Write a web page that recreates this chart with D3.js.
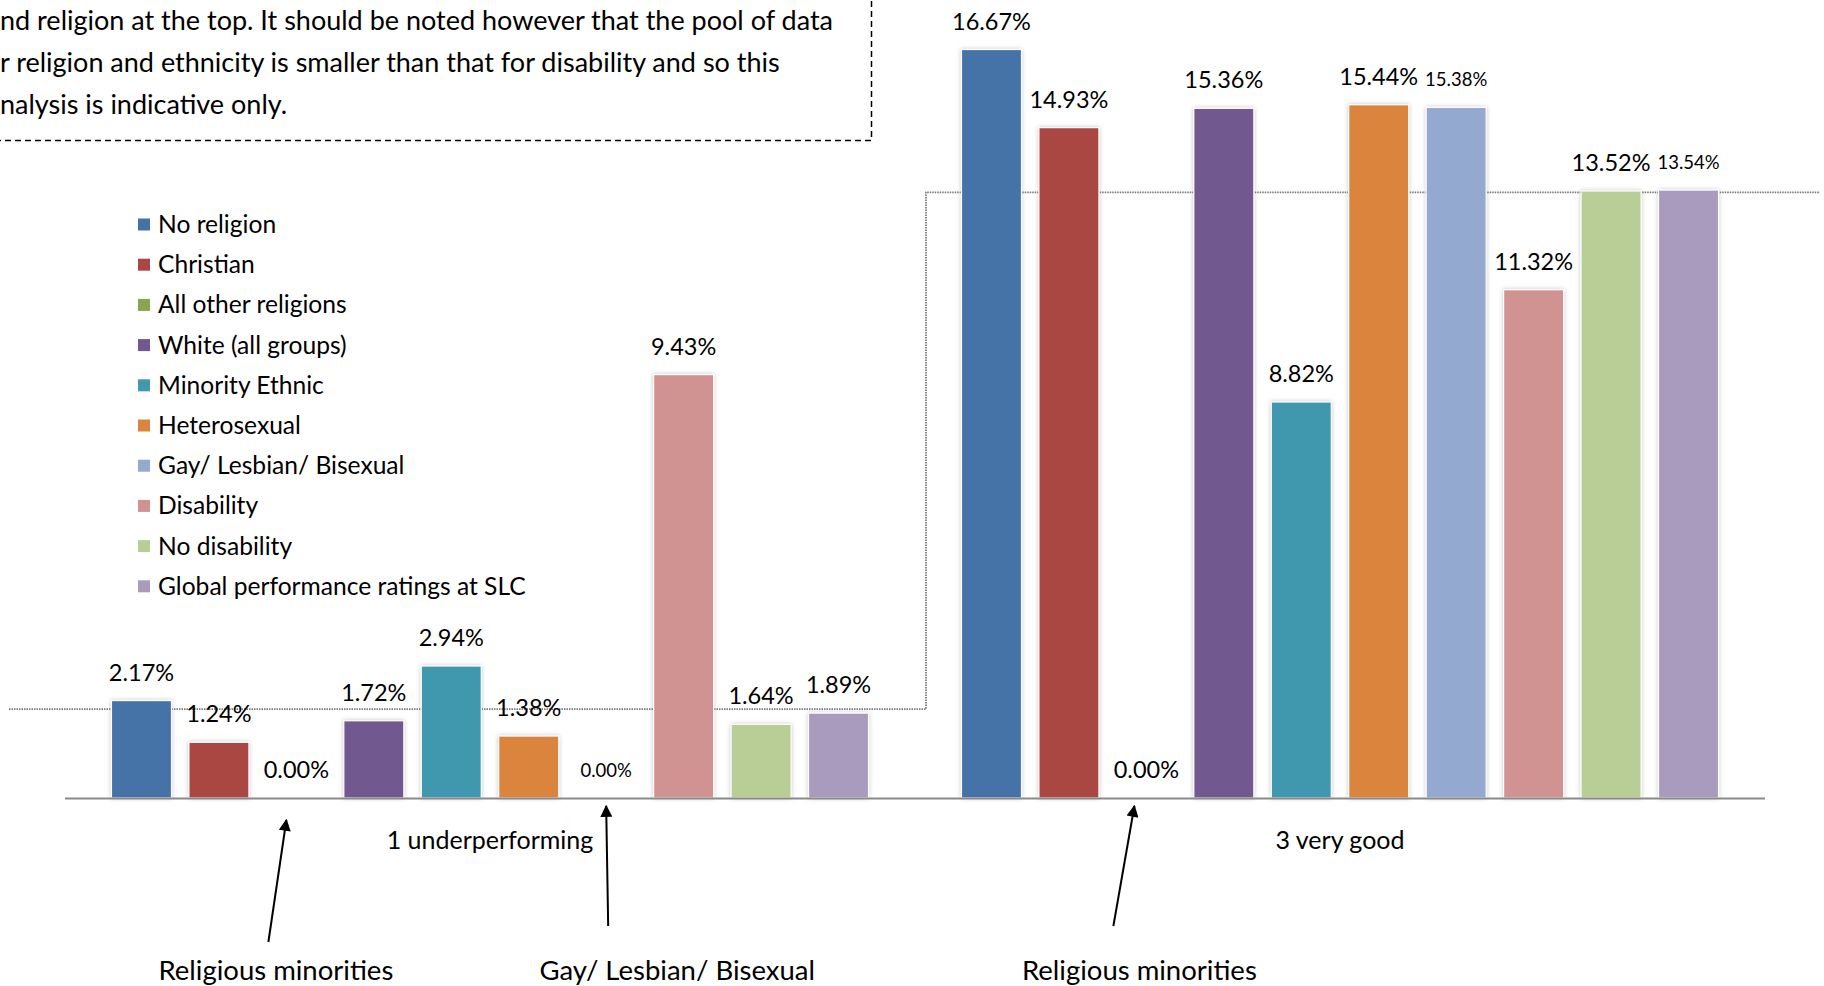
<!DOCTYPE html>
<html>
<head>
<meta charset="utf-8">
<script src="https://cdn.jsdelivr.net/npm/d3@7"></script>
<style>
  html, body { margin: 0; padding: 0; background: #ffffff; overflow: hidden; }
  svg { display: block; font-family: Lato, "Open Sans", "Noto Sans", sans-serif; }
</style>
</head>
<body>
<svg id="chart" width="1824" height="986"></svg>
<script>
// ---- data ----
const categories = ["1 underperforming", "3 very good"];
const seriesNames = [
  "No religion", "Christian", "All other religions", "White (all groups)",
  "Minority Ethnic", "Heterosexual", "Gay/ Lesbian/ Bisexual", "Disability",
  "No disability", "Global performance ratings at SLC"
];
const seriesColors = [
  "#4572A7", "#AA4643", "#89A54E", "#71588F", "#4198AF",
  "#DB843D", "#93A9CF", "#D19392", "#B9CD96", "#A99BBD"
];
const underperformingValues = [2.17, 1.24, 0.00, 1.72, 2.94, 1.38, 0.00, 9.43, 1.64, 1.89];
const veryGoodValues = [16.67, 14.93, 0.00, 15.36, 8.82, 15.44, 15.38, 11.32, 13.52, 13.54];
const benchmarkLevels = [1.98, 13.49];
const noteLines = [
  "nd religion at the top. It should be noted however that the pool of data",
  "r religion and ethnicity is smaller than that for disability and so this",
  "nalysis is indicative only."
];
const annotationTexts = ["Religious minorities", "Gay/ Lesbian/ Bisexual", "Religious minorities"];
const annotationTargets = [[0, 2], [0, 6], [1, 2]]; // [category index, series index]

// ---- layout ----
const baseY = 798;
const svg = d3.select("#chart");

const rows = categories.map((c, ci) => ({
  category: c,
  values: (ci === 0 ? underperformingValues : veryGoodValues)
}));

const x0 = d3.scaleBand().domain(categories).range([65, 1765]).padding(0);
const x1 = d3.scaleBand().domain(seriesNames).range([0, x0.bandwidth()])
  .paddingInner(0.225).paddingOuter(0.6);
const y = d3.scaleLinear().domain([0, 18]).range([baseY, baseY - 18 * 44.9]);

// soft shadow around each bar
const defs = svg.append("defs");
const f = defs.append("filter").attr("id", "barShadow")
  .attr("x", "-30%").attr("y", "-10%").attr("width", "160%").attr("height", "120%");
f.append("feDropShadow").attr("dx", 0).attr("dy", 0).attr("stdDeviation", 2.2)
  .attr("flood-color", "#7f7f7f").attr("flood-opacity", 0.45);

// ---- note box (dashed) ----
const note = svg.append("g");
note.append("path")
  .attr("d", `M-5,140.5 H871.5 V-5`)
  .attr("fill", "none").attr("stroke", "#000").attr("stroke-width", 1.5)
  .attr("stroke-dasharray", "6,4");
note.selectAll("text").data(noteLines).enter().append("text")
  .attr("x", 0).attr("y", (d, i) => 30 + i * 42)
  .attr("font-size", 27).attr("fill", "#000")
  .text(d => d);

// ---- benchmark step line ----
const stepX = x0(categories[1]) + 11;
svg.append("path")
  .attr("d", `M9,${y(benchmarkLevels[0])} H${stepX} V${y(benchmarkLevels[1])} H1820`)
  .attr("fill", "none").attr("stroke", "#7a7a7a").attr("stroke-width", 1.8)
  .attr("stroke-dasharray", "1.5,1");

// ---- bars ----
const groups = svg.append("g").selectAll("g").data(rows).enter().append("g")
  .attr("transform", d => `translate(${x0(d.category)},0)`);

groups.selectAll("rect").data(d => d.values.map((v, i) => ({ v, i })))
  .enter().append("rect")
  .filter(d => d.v > 0)
  .attr("x", d => x1(seriesNames[d.i]))
  .attr("y", d => y(d.v))
  .attr("width", x1.bandwidth())
  .attr("height", d => baseY - y(d.v))
  .attr("fill", d => seriesColors[d.i])
  .attr("stroke", "#ffffff").attr("stroke-width", 1.2)
  .attr("filter", "url(#barShadow)");

// value labels; a few labels are set in a smaller size
const smallLabels = new Set(["0-6", "1-6", "1-9"]);
groups.each(function (row, ci) {
  d3.select(this).selectAll("text.val").data(row.values.map((v, i) => ({ v, i })))
    .enter().append("text").attr("class", "val")
    .attr("x", d => x1(seriesNames[d.i]) + x1.bandwidth() / 2)
    .attr("y", d => y(d.v) - (smallLabels.has(ci + "-" + d.i) ? 21 : 20))
    .attr("text-anchor", "middle")
    .attr("font-size", d => smallLabels.has(ci + "-" + d.i) ? 18.5 : 23.5)
    .attr("fill", "#000")
    .text(d => d.v.toFixed(2) + "%");
});

// ---- category axis ----
svg.append("line")
  .attr("x1", 65).attr("x2", 1765).attr("y1", baseY + 0.5).attr("y2", baseY + 0.5)
  .attr("stroke", "#8a8a8a").attr("stroke-width", 2.2);
svg.append("g").selectAll("text").data(categories).enter().append("text")
  .attr("x", d => x0(d) + x0.bandwidth() / 2)
  .attr("y", 849)
  .attr("text-anchor", "middle").attr("font-size", 25).attr("fill", "#000")
  .text(d => d);

// ---- legend ----
const legend = svg.append("g").selectAll("g").data(seriesNames).enter().append("g")
  .attr("transform", (d, i) => `translate(138,${224.5 + i * 40.2})`);
legend.append("rect").attr("x", 0).attr("y", -6).attr("width", 12).attr("height", 12)
  .attr("fill", (d, i) => seriesColors[i]);
legend.append("text").attr("x", 20).attr("y", 8.5)
  .attr("font-size", 24.6).attr("fill", "#000").text(d => d);

// ---- annotation arrows ----
const arrowTail = [[-28, 942], [2, 926], [-33, 926]];
const arrowTip = [[-10, 820], [0, 806], [-12, 806]];
const textDx = [7.5, 69, 26];
defs.append("marker").attr("id", "arrowHead")
  .attr("viewBox", "0 0 10 10").attr("refX", 9).attr("refY", 5)
  .attr("markerUnits", "userSpaceOnUse")
  .attr("orient", "auto")
  .attr("markerWidth", 22).attr("markerHeight", 12)
  .append("path").attr("d", "M0,0 L10,5 L0,10 Z").attr("fill", "#000");

const ann = svg.append("g").selectAll("g").data(annotationTargets).enter().append("g");
const barCenter = d => x0(categories[d[0]]) + x1(seriesNames[d[1]]) + x1.bandwidth() / 2;
ann.append("line")
  .attr("x1", (d, k) => barCenter(d) + arrowTail[k][0])
  .attr("y1", (d, k) => arrowTail[k][1])
  .attr("x2", (d, k) => barCenter(d) + arrowTip[k][0])
  .attr("y2", (d, k) => arrowTip[k][1])
  .attr("stroke", "#000").attr("stroke-width", 2)
  .attr("marker-end", "url(#arrowHead)");
ann.append("text")
  .attr("x", (d, k) => barCenter(d) + arrowTail[k][0] + textDx[k])
  .attr("y", 980)
  .attr("text-anchor", "middle").attr("font-size", 27.5).attr("fill", "#000")
  .text((d, k) => annotationTexts[k]);
</script>
</body>
</html>
